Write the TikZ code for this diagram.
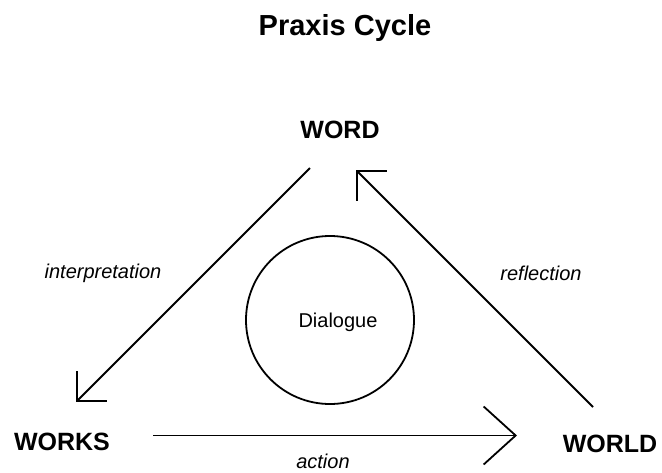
\documentclass[tikz,border=0pt]{standalone}
\usepackage{fontspec}
\setmainfont{Liberation Sans}
\usetikzlibrary{arrows.meta}

\begin{document}
\begin{tikzpicture}[
  x=1pt,y=-1pt,
  heading/.style={font=\fontsize{29}{34}\selectfont\bfseries,anchor=base,inner sep=0pt},
  place/.style={font=\fontsize{25}{30}\selectfont\bfseries,anchor=base,inner sep=0pt},
  verb/.style={font=\fontsize{20}{24}\selectfont\itshape,anchor=base,inner sep=0pt},
  talk/.style={draw,circle,line width=1.8pt,minimum size=168pt,inner sep=0pt},
  turn/.style={-{Straight Barb[length=21pt,width=42pt]},line width=1.8pt},
  bigturn/.style={-{Straight Barb[length=32pt,width=58pt]},line width=1.8pt}]

  \useasboundingbox (0,0) rectangle (662,472);

  % Position the title and the three corners
  \node[heading] (title) at (345,35) {Praxis Cycle};
  \node[place] (word) at (340,138) {WORD};
  \node[place] (works) at (62,450) {WORKS};
  \node[place] (world) at (610,452) {WORLD};

  % The dialogue in the middle
  \node[talk] (circ) at (330,320) {};
  \node[font=\fontsize{20}{24}\selectfont,anchor=base,inner sep=0pt] (dialogue) at (338,327) {Dialogue};

  % Ends of the arrows next to the corners
  \coordinate (word-out) at (310,168);
  \coordinate (word-in) at (356,170);
  \coordinate (works-in) at (76,402);
  \coordinate (works-out) at (153,435.5);
  \coordinate (world-in) at (517,435.5);
  \coordinate (world-out) at (593,407);

  % Draw the arrows between the corners and label them.
  \draw[turn] (word-out) -- (works-in);
  \draw[bigturn] (works-out) -- (world-in);
  \draw[turn] (world-out) -- (word-in);
  \node[verb] (interp) at (103,278) {interpretation};
  \node[verb] (action) at (323,468) {action};
  \node[verb] (reflect) at (541,280) {reflection};
\end{tikzpicture}
\end{document}
